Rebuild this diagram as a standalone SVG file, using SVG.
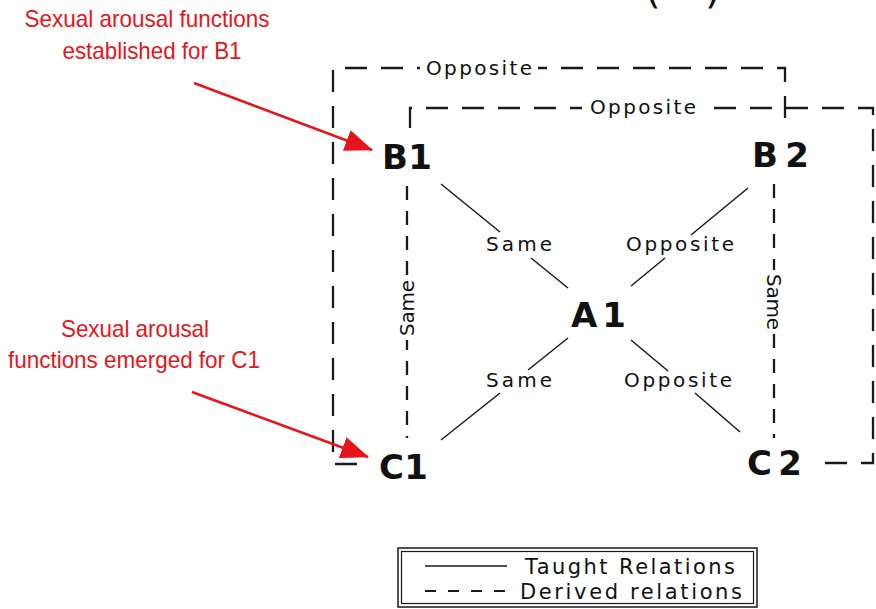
<svg xmlns="http://www.w3.org/2000/svg" width="876" height="609" viewBox="0 0 876 609">
<style>
.bg{fill:#fff}
.d{fill:none;stroke:#1a1a1a;stroke-width:2.3;stroke-dasharray:22 14}
.ds{fill:none;stroke:#1a1a1a;stroke-width:2.3;stroke-dasharray:14 11}
.t{fill:none;stroke:#1a1a1a;stroke-width:1.5}
.lbl{font-family:"DejaVu Sans",sans-serif;font-size:20px;fill:#111}
.node{font-family:"DejaVu Sans",sans-serif;font-size:34px;font-weight:bold;fill:#111}
.red{font-family:"Liberation Sans",Arial,sans-serif;font-size:24px;fill:#e8141b}
.ra{stroke:#e8141b;stroke-width:2.5;fill:none}
.leg{font-family:"DejaVu Sans",sans-serif;font-size:21px;fill:#111}
</style>
<defs>
<marker id="rh" markerWidth="28" markerHeight="22" refX="27" refY="11" orient="auto" markerUnits="userSpaceOnUse" viewBox="0 0 28 22">
<path d="M0,0 L28,11 L0,22 Z" fill="#e8141b"/>
</marker>
</defs>
<rect class="bg" x="0" y="0" width="876" height="609"/>

<!-- partial title at top edge -->
<text x="645" y="3" font-family="DejaVu Sans, sans-serif" font-size="40" fill="#111">(</text>
<text x="705" y="3" font-family="DejaVu Sans, sans-serif" font-size="40" fill="#111">)</text>

<g id="connectors">
  <!-- derived (dashed) relations -->
  <path class="d" d="M357 464 H333 V68 H785 V132"/>
  <path class="d" d="M410 128 V108 H873 V463 H818"/>
  <path class="ds" d="M407 186 V438"/>
  <path class="ds" d="M774 184 V438"/>
  <!-- label backgrounds -->
  <rect class="bg" x="420" y="57" width="118" height="24"/>
  <rect class="bg" x="582" y="96" width="122" height="24"/>
  <rect class="bg" x="396" y="276" width="22" height="64"/>
  <rect class="bg" x="763" y="270" width="22" height="64"/>
  <text class="lbl" x="479" y="75" text-anchor="middle" textLength="106" lengthAdjust="spacing">Opposite</text>
  <text class="lbl" x="643" y="114" text-anchor="middle" textLength="106" lengthAdjust="spacing">Opposite</text>
  <text class="lbl" transform="translate(414 308) rotate(-90)" text-anchor="middle" textLength="56" lengthAdjust="spacing">Same</text>
  <text class="lbl" transform="translate(767 302) rotate(90)" text-anchor="middle" textLength="56" lengthAdjust="spacing">Same</text>

  <!-- taught (solid) relations -->
  <path class="t" d="M441 184 L500 232 M531 258 L568 288"/>
  <path class="t" d="M748 188 L691 235 M665 258 L631 286"/>
  <path class="t" d="M568 338 L528 370 M500 393 L441 440"/>
  <path class="t" d="M631 340 L668 371 M695 393 L740 432"/>
  <text class="lbl" x="519" y="251" text-anchor="middle" textLength="66" lengthAdjust="spacing">Same</text>
  <text class="lbl" x="680" y="251" text-anchor="middle" textLength="108" lengthAdjust="spacing">Opposite</text>
  <text class="lbl" x="519" y="387" text-anchor="middle" textLength="66" lengthAdjust="spacing">Same</text>
  <text class="lbl" x="678" y="387" text-anchor="middle" textLength="108" lengthAdjust="spacing">Opposite</text>

  <!-- red annotation arrows -->
  <line class="ra" x1="194" y1="83" x2="372" y2="150" marker-end="url(#rh)"/>
  <line class="ra" x1="192" y1="392" x2="368" y2="457" marker-end="url(#rh)"/>
</g>

<g id="B1"><text class="node" x="382" y="169" textLength="50" lengthAdjust="spacing">B1</text></g>
<g id="B2"><text class="node" x="752" y="167" textLength="57" lengthAdjust="spacing">B2</text></g>
<g id="A1"><text class="node" x="571" y="327" textLength="55" lengthAdjust="spacing">A1</text></g>
<g id="C1"><text class="node" x="379" y="479" textLength="49" lengthAdjust="spacing">C1</text></g>
<g id="C2"><text class="node" x="747" y="475" textLength="55" lengthAdjust="spacing">C2</text></g>

<g id="note-b1">
  <text class="red" x="147" y="27" text-anchor="middle" textLength="245" lengthAdjust="spacingAndGlyphs">Sexual arousal functions</text>
  <text class="red" x="152" y="59" text-anchor="middle" textLength="179" lengthAdjust="spacingAndGlyphs">established for B1</text>
</g>
<g id="note-c1">
  <text class="red" x="135" y="337" text-anchor="middle" textLength="148" lengthAdjust="spacingAndGlyphs">Sexual arousal</text>
  <text class="red" x="134" y="368" text-anchor="middle" textLength="252" lengthAdjust="spacingAndGlyphs">functions emerged for C1</text>
</g>

<g id="legend">
  <rect x="398" y="548" width="359" height="59" fill="#fff" stroke="#1a1a1a" stroke-width="1.5"/>
  <rect x="401.5" y="551.5" width="352" height="52" fill="none" stroke="#1a1a1a" stroke-width="1.2"/>
  <line x1="425" y1="566" x2="507" y2="566" stroke="#1a1a1a" stroke-width="1.6"/>
  <line x1="425" y1="591" x2="512" y2="591" stroke="#1a1a1a" stroke-width="1.8" stroke-dasharray="11 12"/>
  <text class="leg" x="525" y="574" textLength="210" lengthAdjust="spacing">Taught Relations</text>
  <text class="leg" x="520" y="599" textLength="222" lengthAdjust="spacing">Derived relations</text>
</g>
</svg>
